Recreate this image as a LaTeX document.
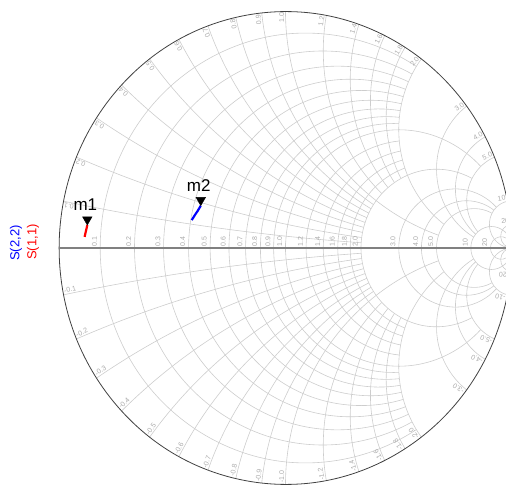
\documentclass[border=0pt]{standalone}
\usepackage{fontspec}
\setmainfont{Liberation Sans}
\usepackage{pgfplots}
\pgfplotsset{compat=1.18}
\usepgfplotslibrary{smithchart}
\definecolor{gridc}{RGB}{205,205,205}
\definecolor{lblc}{RGB}{170,170,170}
\definecolor{sred}{RGB}{255,0,0}
\definecolor{sblue}{RGB}{0,0,255}
\tikzset{lbl/.style={font=\fontsize{7}{8}\selectfont, text=lblc, inner sep=1.2pt}}
\begin{document}
\begin{tikzpicture}
\begin{smithchart}[
  scale only axis,
  width=453pt, height=473pt,
  show origin=false,
  xtick={0.1,0.2,0.3,0.4,0.5,0.6,0.7,0.8,0.9,1,1.2,1.4,1.6,1.8,2,3,4,5,10,20},
  xticklabels={0.1,0.2,0.3,0.4,0.5,0.6,0.7,0.8,0.9,1.0,1.2,1.4,1.6,1.8,2.0,3.0,4.0,5.0,10,20},
  xgrid stop at y={0.1:2,0.2:2,0.3:2,0.4:2,0.5:2,0.6:2,0.7:2,0.8:2,0.9:2,1:5,
    1.2:2,1.4:2,1.6:2,1.8:2,2:5,3:10,4:10,5:10},
  ytick={-20,-10,-5,-4,-3,-2,-1.8,-1.6,-1.4,-1.2,-1,-0.9,-0.8,-0.7,-0.6,-0.5,-0.4,-0.3,-0.2,-0.1,
         0.1,0.2,0.3,0.4,0.5,0.6,0.7,0.8,0.9,1,1.2,1.4,1.6,1.8,2,3,4,5,10,20},
  yticklabels={},
  yticklabel style={opacity=0},
  ygrid stop at x={0.1:2,0.2:2,0.3:2,0.4:2,0.5:2,0.6:2,0.7:2,0.8:2,0.9:2,1:5,
    1.2:2,1.4:2,1.6:2,1.8:2,2:5,3:10,4:10,5:10,
    -0.1:2,-0.2:2,-0.3:2,-0.4:2,-0.5:2,-0.6:2,-0.7:2,-0.8:2,-0.9:2,-1:5,
    -1.2:2,-1.4:2,-1.6:2,-1.8:2,-2:5,-3:10,-4:10,-5:10},
  minor xtick={}, minor ytick={},
  major tick length=0pt,
  grid style={gridc, line width=0.6pt},
  axis line style={black!75, line width=0.8pt},
  /pgf/number format/assume math mode=true,
  xticklabel style={font=\fontsize{7}{8}\selectfont, text=lblc, rotate=90, anchor=south west, inner sep=1pt, yshift=2pt},
]
\addplot[sred, line width=2.2pt, is smithchart cs] coordinates {
 (-0.887,0.047) (-0.883,0.064) (-0.879,0.080) (-0.875,0.097)};
\addplot[sblue, line width=2.2pt, is smithchart cs] coordinates {
 (-0.414,0.118) (-0.401,0.138) (-0.387,0.158) (-0.374,0.179)};
\addplot[only marks, is smithchart cs, mark=triangle*, mark size=5.5pt,
  mark options={black, yshift=5.5pt, rotate=180}] coordinates {(-0.875,0.097)}
  node[above=11pt, xshift=-2pt, font=\fontsize{17}{18}\selectfont] {m1};
\addplot[only marks, is smithchart cs, mark=triangle*, mark size=5.5pt,
  mark options={black, yshift=5.5pt, rotate=180}] coordinates {(-0.374,0.179)}
  node[above=11pt, xshift=-2pt, font=\fontsize{17}{18}\selectfont] {m2};
\coordinate (C) at (axis cs:1,0);
\end{smithchart}
\fill[white] (C) circle (3.6pt);
\draw[gridc, line width=0.6pt] ([yshift=-4.5pt]C) -- ([yshift=4.5pt]C);
\draw[black!50, line width=1.2pt] ([xshift=-226.5pt]C) -- ([xshift=226.5pt]C);
\foreach \v/\t in {0.1/0.1,0.2/0.2,0.3/0.3,0.4/0.4,0.5/0.5,0.6/0.6,0.7/0.7,0.8/0.8,0.9/0.9,1/1.0,
  1.2/1.2,1.4/1.4,1.6/1.6,1.8/1.8,2/2.0,3/3.0,4/4.0,5/5.0,10/10,20/20}{
  \pgfmathsetmacro\th{180-2*atan(\v)}
  \pgfmathsetmacro\ph{2*atan(\v)}
  \node[lbl, rotate=\th, anchor=south east] at ([shift={({226.5pt*cos(\th)},{236.4pt*sin(\th)})}]C) {\t};
  \node[lbl, rotate=\ph, anchor=south west] at ([shift={({226.5pt*cos(\th)},{-236.4pt*sin(\th)})}]C) {-\t};
}
\node[rotate=90, text=sblue, font=\fontsize{13}{14}\selectfont] at ([shift={(-269.5pt,5pt)}]C) {S(2,2)};
\node[rotate=90, text=sred, font=\fontsize{13}{14}\selectfont] at ([shift={(-252.5pt,6pt)}]C) {S(1,1)};
\pgfresetboundingbox
\path[use as bounding box, shift={(C)}] (-285.5pt,-239pt) rectangle (220.5pt,248pt);
\end{tikzpicture}
\end{document}
